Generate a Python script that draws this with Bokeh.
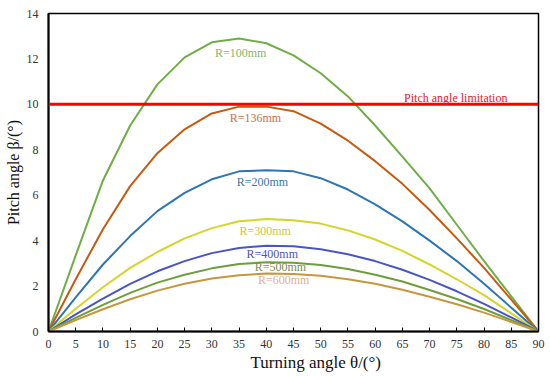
from bokeh.plotting import figure
from bokeh.models import Range1d, FixedTicker, Label, Span, Title
from bokeh.embed import file_html
from bokeh.resources import INLINE

theta = [0, 5, 10, 15, 20, 25, 30, 35, 40, 45, 50, 55, 60, 65, 70, 75, 80, 85, 90]

r100 = [0, 3.35, 6.65, 9.07, 10.88, 12.07, 12.73, 12.9, 12.69, 12.16, 11.37, 10.35, 9.07, 7.7, 6.3, 4.7, 3.1, 1.55, 0]
r136 = [0, 2.3, 4.5, 6.4, 7.85, 8.9, 9.6, 9.9, 9.9, 9.7, 9.15, 8.4, 7.5, 6.5, 5.35, 4.1, 2.8, 1.4, 0]
r200 = [0, 1.5, 2.95, 4.2, 5.3, 6.1, 6.7, 7.05, 7.1, 7.05, 6.75, 6.25, 5.6, 4.85, 4.0, 3.1, 2.1, 1.05, 0]
r300 = [0, 1.0, 1.95, 2.8, 3.5, 4.1, 4.55, 4.85, 4.95, 4.9, 4.75, 4.45, 4.05, 3.55, 2.95, 2.3, 1.6, 0.8, 0]
r400 = [0, 0.75, 1.45, 2.1, 2.65, 3.1, 3.45, 3.68, 3.78, 3.75, 3.62, 3.4, 3.1, 2.72, 2.27, 1.77, 1.22, 0.62, 0]
r500 = [0, 0.6, 1.17, 1.7, 2.15, 2.5, 2.78, 2.97, 3.05, 3.03, 2.93, 2.75, 2.5, 2.2, 1.83, 1.43, 0.99, 0.5, 0]
r600 = [0, 0.5, 0.98, 1.42, 1.8, 2.1, 2.33, 2.48, 2.55, 2.53, 2.45, 2.3, 2.1, 1.84, 1.53, 1.2, 0.83, 0.42, 0]

series_names = ["R=100mm", "R=136mm", "R=200mm", "R=300mm", "R=400mm", "R=500mm", "R=600mm"]
series_values = [r100, r136, r200, r300, r400, r500, r600]
line_colors = ["#70AD47", "#C55A11", "#2E75B6", "#D4D42A", "#4A55C4", "#6E9E3C", "#C8963C"]
label_colors = ["#86B46A", "#C8704A", "#3A78A8", "#CFC62E", "#5252BE", "#7C8C52", "#E2AE96"]
label_x = [35.3, 38.0, 39.3, 39.8, 41.1, 42.6, 43.2]
label_y = [12.24, 9.42, 6.56, 4.42, 3.43, 2.82, 2.25]

limit_value = 10
limit_text = "Pitch angle limitation"

x_title = "Turning angle θ/(°)"
y_title = "Pitch angle β/(°)"

x_ticks = list(range(0, 91, 5))
y_ticks = list(range(0, 15, 2))

FONT = "Liberation Serif"

p = figure(width=550, height=376, output_backend="svg", toolbar_location=None,
           x_range=Range1d(0, 90), y_range=Range1d(0, 14),
           min_border_left=48, min_border_right=12, min_border_top=13, min_border_bottom=45)

p.xgrid.visible = False
p.ygrid.visible = False
p.outline_line_color = "black"
p.outline_line_width = 1.5
p.background_fill_color = "white"
p.border_fill_color = "white"

for vals, col in zip(series_values, line_colors):
    p.line(theta, vals, line_color=col, line_width=2)

p.add_layout(Span(location=limit_value, dimension="width", line_color="#FF0000", line_width=3))

for name, lx, ly, lc in zip(series_names, label_x, label_y, label_colors):
    p.add_layout(Label(x=lx, y=ly, text=name, text_font=FONT, text_font_size="12px",
                       text_color=lc, text_align="center", text_baseline="middle"))

p.add_layout(Label(x=74.8, y=10.3, text=limit_text, text_font=FONT, text_font_size="12px",
                   text_color="#E0202E", text_align="center", text_baseline="middle"))

# x-axis title, shifted right of center as in the reference
p.add_layout(Title(text=x_title, align="left", offset=202, standoff=0,
                   text_font=FONT, text_font_size="17px", text_font_style="normal",
                   text_color="#111111"), "below")

p.xaxis.ticker = FixedTicker(ticks=x_ticks)
p.yaxis.ticker = FixedTicker(ticks=y_ticks)
p.xaxis.minor_tick_line_color = None
p.yaxis.minor_tick_line_color = None
p.xaxis.major_tick_in = 4
p.xaxis.major_tick_out = 0
p.xaxis.major_tick_line_color = "black"
p.yaxis.major_tick_in = 0
p.yaxis.major_tick_out = 0
p.xaxis.axis_line_width = 2
p.yaxis.axis_line_width = 2
p.xaxis.axis_line_color = "black"
p.yaxis.axis_line_color = "black"

for ax in (p.xaxis, p.yaxis):
    ax.major_label_text_font = FONT
    ax.major_label_text_font_size = "12px"
    ax.major_label_text_color = "#333333"
    ax.axis_label_text_font = FONT
    ax.axis_label_text_font_size = "16px"
    ax.axis_label_text_font_style = "normal"
    ax.axis_label_text_color = "#111111"

p.yaxis.axis_label = y_title
p.xaxis.major_label_standoff = 8
p.yaxis.major_label_standoff = 10
p.yaxis.axis_label_standoff = 2

open("out.html", "w").write(file_html(p, INLINE))
